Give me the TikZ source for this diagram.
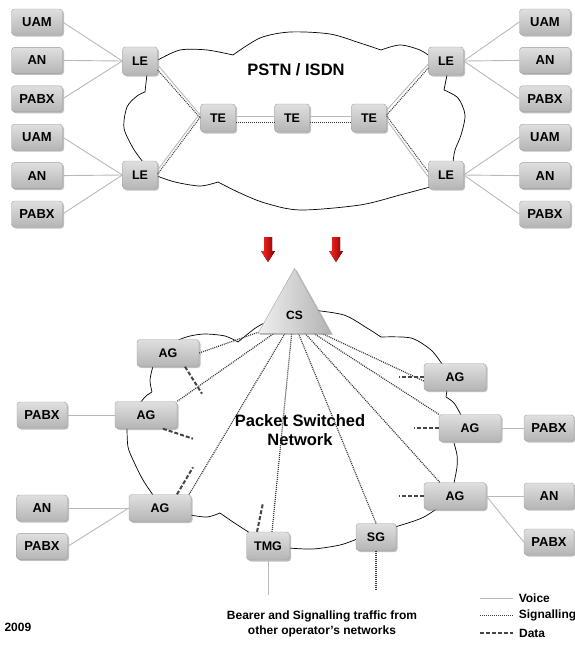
\documentclass[tikz,border=0pt]{standalone}
\usepackage{fontspec}
\setmainfont{Liberation Sans}
\usetikzlibrary{shapes.geometric, shadows, positioning}

\begin{document}
\begin{tikzpicture}[x=1pt, y=-1pt, node distance=12pt,
  netbox/.style={draw=gray!75, rounded corners=3pt, top color=gray!25, bottom color=gray!58, inner sep=0pt,
    font=\bfseries\fontsize{12.5}{12.5}\selectfont,
    drop shadow={shadow xshift=1.5pt, shadow yshift=-1.5pt, opacity=0.5, fill=gray}},
  endbox/.style={netbox, minimum width=51pt, minimum height=26pt, font=\bfseries\fontsize{13}{13}\selectfont},
  exbox/.style={netbox, minimum width=35pt, minimum height=28pt},
  gwbox/.style={netbox, minimum width=62pt, minimum height=27pt},
  voiceline/.style={gray!55, line width=0.9pt},
  sigline/.style={gray!45!black, line width=1.2pt, dash pattern=on 1pt off 1pt},
  dataline/.style={gray!55!black, line width=2pt, dash pattern=on 4pt off 2pt},
  cloudline/.style={black, line width=0.7pt},
  bigtext/.style={font=\bfseries\fontsize{16.5}{19}\selectfont, align=center},
  smalltext/.style={font=\bfseries\fontsize{12}{15}\selectfont, align=center}
]
\useasboundingbox (0,0) rectangle (574,651);

% PSTN / ISDN cloud
\draw[cloudline] plot[smooth] coordinates {(158,60) (180,50) (207,50) (233,55)}
  plot[smooth] coordinates {(233,55) (260,38) (290,32) (330,34) (360,43) (381,50)}
  plot[smooth] coordinates {(381,50) (400,45) (420,50) (432,58)}
  plot[smooth] coordinates {(447,75) (444,90)}
  plot[smooth] coordinates {(444,90) (458,98) (465,115) (461,135) (455,150) (453,162)}
  plot[smooth] coordinates {(430,187) (400,195) (360,205) (300,210) (265,203) (240,193) (218,182)}
  plot[smooth] coordinates {(218,182) (200,186) (175,182) (157,176)}
  plot[smooth] coordinates {(143,162) (133,148) (124,128) (127,107) (137,96) (145,92)}
  plot[smooth] coordinates {(145,92) (147,74)};

% Packet switched cloud
\draw[cloudline] plot[smooth] coordinates {(277,317) (257,327) (238,342)}
  plot[smooth] coordinates {(238,342) (225,336) (205,334) (190,336) (178,340)}
  plot[smooth] coordinates {(153,366) (150,380) (152,392)}
  plot[smooth] coordinates {(152,392) (146,396) (140,403)}
  plot[smooth] coordinates {(127,427) (128,447) (134,462) (143,480) (153,495)}
  plot[smooth] coordinates {(190,515) (207,517) (220,513)}
  plot[smooth] coordinates {(220,513) (233,522) (250,533)}
  plot[smooth] coordinates {(289,548) (313,549) (340,545) (357,539)}
  plot[smooth] coordinates {(395,527) (411,522) (424,517) (438,508)}
  plot[smooth] coordinates {(454,483) (457,467) (457,455) (454,443)}
  plot[smooth] coordinates {(461,415) (454,403) (446,397)}
  plot[smooth] coordinates {(446,397) (447,390)}
  plot[smooth] coordinates {(442,364) (431,350) (411,338) (381,337)}
  plot[smooth] coordinates {(381,337) (367,328) (344,315) (312,310)};

% Nodes (PSTN)
\node (uamA) [endbox] at (37,22) {UAM};
\node (anA) [endbox, below=of uamA] {AN};
\node (pabxA) [endbox, below=of anA] {PABX};
\node (uamB) [endbox, below=of pabxA] {UAM};
\node (anB) [endbox, below=of uamB] {AN};
\node (pabxB) [endbox, below=of anB] {PABX};
\node (uamC) [endbox] at (545,22) {UAM};
\node (anC) [endbox, below=of uamC] {AN};
\node (pabxC) [endbox, below=of anC] {PABX};
\node (uamD) [endbox, below=of pabxC] {UAM};
\node (anD) [endbox, below=of uamD] {AN};
\node (pabxD) [endbox, below=of anD] {PABX};
\node (leA) [exbox] at (140,61) {LE};
\node (leB) [exbox] at (140,175) {LE};
\node (leC) [exbox] at (446,61) {LE};
\node (leD) [exbox] at (446,175) {LE};
\node (teA) [exbox] at (218,118) {TE};
\node (teB) [exbox] at (292,118) {TE};
\node (teC) [exbox] at (369,118) {TE};
\node (pstn) [bigtext] at (296,70) {PSTN / ISDN};

% Links (PSTN)
\draw[voiceline] (uamA.east) -- (leA.west);
\draw[voiceline] (anA.east) -- (leA.west);
\draw[voiceline] (pabxA.east) -- (leA.west);
\draw[voiceline] (uamB.east) -- (leB.west);
\draw[voiceline] (anB.east) -- (leB.west);
\draw[voiceline] (pabxB.east) -- (leB.west);
\draw[voiceline] (leC.east) -- (uamC.west);
\draw[voiceline] (leC.east) -- (anC.west);
\draw[voiceline] (leC.east) -- (pabxC.west);
\draw[voiceline] (leD.east) -- (uamD.west);
\draw[voiceline] (leD.east) -- (anD.west);
\draw[voiceline] (leD.east) -- (pabxD.west);
\draw[voiceline] ([yshift=-4pt]leA.east) -- ([yshift=3pt]teA.west);
\draw[sigline, line width=1pt] ([yshift=-9pt]leA.east) -- (teA.west);
\draw[voiceline] ([yshift=5pt]leB.east) -- ([yshift=5pt]teA.west);
\draw[sigline, line width=1pt] ([yshift=1pt]leB.east) -- ([yshift=1pt]teA.west);
\draw[voiceline] ([yshift=2pt]teA.east) -- ([yshift=2pt]teB.west);
\draw[sigline, line width=1pt] ([yshift=-4pt]teA.east) -- ([yshift=-4pt]teB.west);
\draw[voiceline] ([yshift=2pt]teB.east) -- ([yshift=2pt]teC.west);
\draw[sigline, line width=1pt] ([yshift=-4pt]teB.east) -- ([yshift=-4pt]teC.west);
\draw[voiceline] ([yshift=8pt]teC.east) -- ([yshift=-3pt]leC.west);
\draw[sigline, line width=1pt] ([yshift=3pt]teC.east) -- ([yshift=-7pt]leC.west);
\draw[voiceline] ([yshift=-2pt]teC.east) -- ([yshift=-2pt]leD.west);
\draw[sigline, line width=1pt] ([yshift=2pt]teC.east) -- ([yshift=3pt]leD.west);

% Migration arrows
\foreach \x in {268,336}
  \fill[left color=red!85, right color=red!55!black]
    (\x-4,237) -- (\x+4,237) -- (\x+4,251) -- (\x+7,251) -- (\x,262) -- (\x-7,251) -- (\x-4,251) -- cycle;

% Nodes (packet network)
\node (agA) [gwbox] at (168,353) {AG};
\node (agB) [gwbox] at (146,415) {AG};
\node (agC) [gwbox] at (160,508) {AG};
\node (agD) [gwbox] at (455,377) {AG};
\node (agE) [gwbox] at (470,428) {AG};
\node (agF) [gwbox] at (455,496) {AG};
\node (pabxE) [endbox, minimum width=50pt] at (42,415) {PABX};
\node (anE) [endbox] at (42,508) {AN};
\node (pabxF) [endbox, below=of anE] {PABX};
\node (pabxG) [endbox, minimum width=50pt] at (549,428) {PABX};
\node (anG) [endbox, minimum width=50pt] at (549,496) {AN};
\node (pabxH) [endbox, minimum width=50pt] at (549,542) {PABX};
\node (tmg) [netbox, minimum width=43pt, minimum height=28pt] at (268,546) {TMG};
\node (sg) [netbox, minimum width=40pt, minimum height=27pt] at (376,537) {SG};
\node (psn) [bigtext] at (300,430) {Packet Switched\\Network};

% Links (packet network)
\draw[sigline] (agA.east) -- (293,320);
\draw[sigline] (agB.north east) -- (293,320);
\draw[sigline] ([xshift=-2pt]agC.north east) -- (293,320);
\draw[sigline] ([xshift=4pt]tmg.north) -- (293,320);
\draw[sigline] (sg.north) -- (293,320);
\draw[sigline] ([yshift=-4pt]agD.west) -- (293,320);
\draw[sigline] (agE.north west) -- (293,320);
\draw[sigline] ([xshift=16pt]agF.north west) -- (293,320);
\draw[sigline] (sg.south) -- ++(0,40);
\draw[voiceline] (tmg.south) -- ++(0,35);
\draw[voiceline] (pabxE.east) -- (agB.west);
\draw[voiceline] (anE.east) -- (agC.west);
\draw[voiceline] (pabxF.east) -- (agC.west);
\draw[voiceline] (agE.east) -- (pabxG.west);
\draw[voiceline] (agF.east) -- (anG.west);
\draw[voiceline] (agF.east) -- (pabxH.west);
\draw[dataline] ([xshift=17pt]agA.south) -- ++(17,27);
\draw[dataline] ([xshift=17pt]agB.south) -- ++(30,10);
\draw[dataline] ([xshift=17pt]agC.north) -- ++(16,-27);
\draw[dataline] ([xshift=-11pt]tmg.north) -- ++(6,-29);
\draw[dataline] (agD.west) -- ++(-25,0);
\draw[dataline] (agE.west) -- ++(-25,0);
\draw[dataline] (agF.west) -- ++(-25,0);

% Call server
\node (cs) [isosceles triangle, isosceles triangle stretches, shape border rotate=90,
  minimum width=73pt, minimum height=65pt, inner sep=0pt, draw=gray!70,
  left color=gray!12, right color=gray!60, font=\bfseries\fontsize{12}{12}\selectfont,
  drop shadow={shadow xshift=2pt, shadow yshift=-1.5pt, opacity=0.5, fill=gray}]
  at (294.5,315.5) {CS};

% Texts and legend
\node (bearer) [smalltext] at (322,624) {Bearer and Signalling traffic from\\other operator's networks};
\node (year) [smalltext, anchor=west] at (1,627) {2009};
\coordinate (lgv) at (480,598);
\coordinate (lgs) at (480,615);
\coordinate (lgd) at (480,633);
\draw[voiceline] (lgv) -- ++(33,0) node[right, xshift=2pt, smalltext, black] {Voice};
\draw[sigline, line width=1pt] (lgs) -- ++(33,0) node[right, xshift=2pt, smalltext, black] {Signalling};
\draw[dataline, line width=1.5pt] (lgd) -- ++(33,0) node[right, xshift=2pt, smalltext, black] {Data};

\end{tikzpicture}
\end{document}
